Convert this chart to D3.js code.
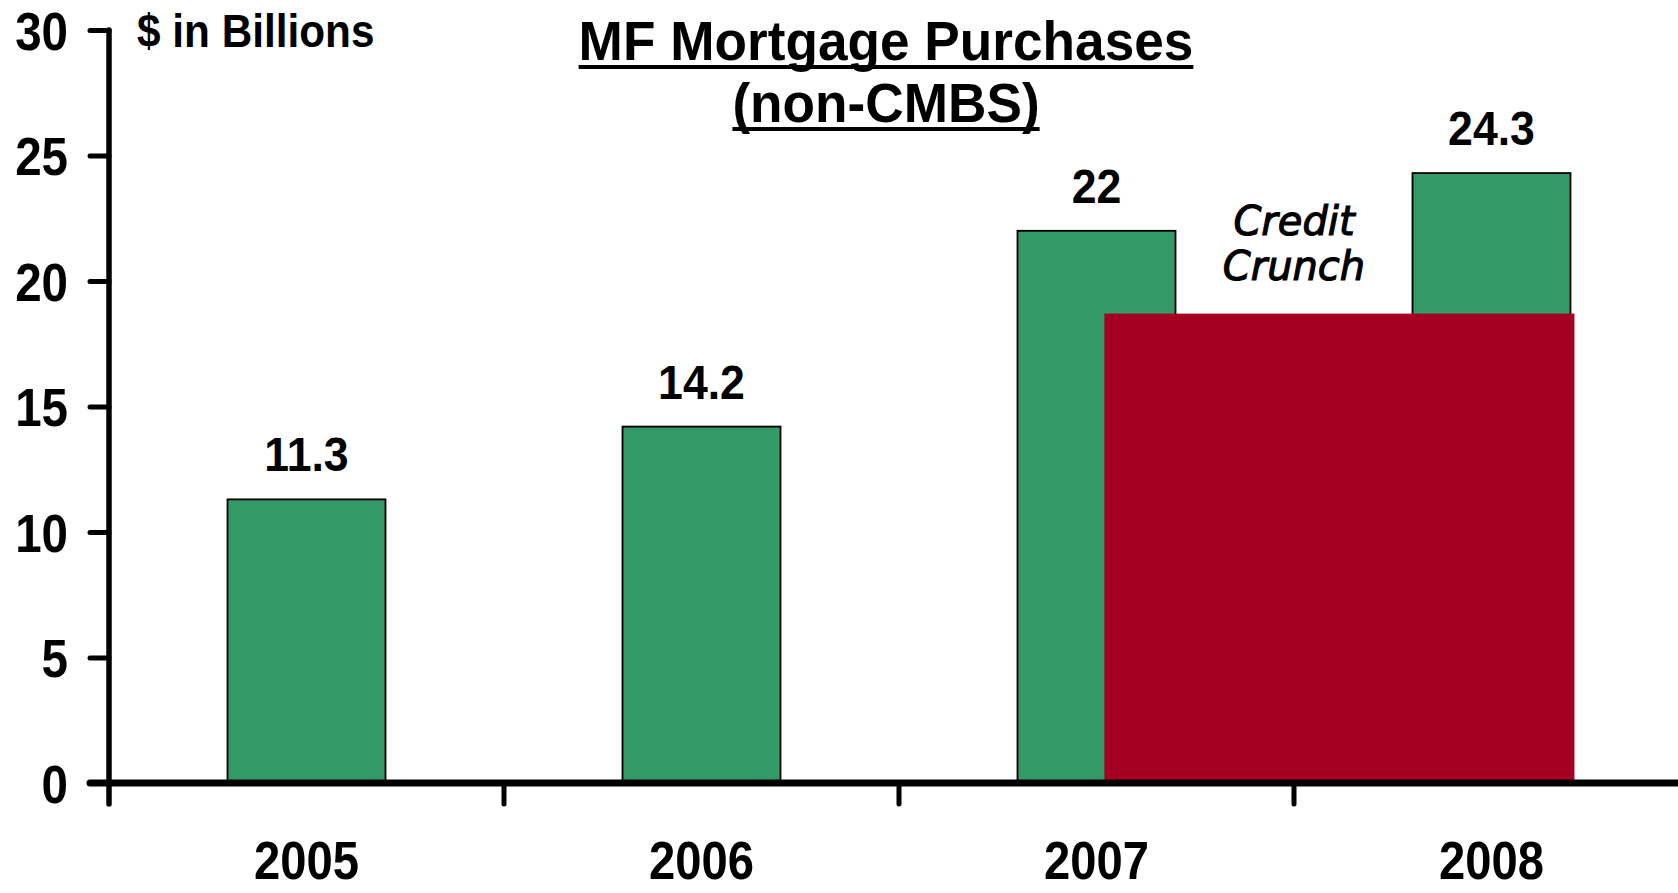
<!DOCTYPE html>
<html>
<head>
<meta charset="UTF-8">
<script src="https://d3js.org/d3.v7.min.js"></script>
<style>
  body { margin: 0; background: #fff; }
  svg text { font-family: "Liberation Sans", Arial, sans-serif; font-weight: bold; fill: #000; }
</style>
</head>
<body>
<script>
// data
const years  = ["2005", "2006", "2007", "2008"];
const values = [11.3, 14.2, 22, 24.3];
const valueLabels = ["11.3", "14.2", "22", "24.3"];
const yTicks = [0, 5, 10, 15, 20, 25, 30];
const titleLines = ["MF Mortgage Purchases", "(non-CMBS)"];
const unitLabel = "$ in Billions";
const crunchLines = ["Credit", "Crunch"];
// red block: starts inside 2007 band, ends inside 2008 band, top at this value
const crunchFrom = ["2007", 0.52];
const crunchTo   = ["2008", 0.71];
const crunchTop  = 18.7;

const W = 1678, H = 893;
const svg = d3.select("body").append("svg")
  .attr("width", W).attr("height", H);

const x = d3.scaleBand().domain(years).range([109, 1689]).padding(0);
const y = d3.scaleLinear().domain([0, 30]).range([783, 30]);
const barW = x.bandwidth() * 0.4;

// the original font is a bit narrower than Arial, squeeze text horizontally
function place(sel, px, py, sx) {
  return sel.attr("transform", `translate(${px},${py}) scale(${sx},1)`);
}

// bars
svg.selectAll("rect.bar")
  .data(years)
  .enter().append("rect")
    .attr("class", "bar")
    .attr("x", d => x(d) + (x.bandwidth() - barW) / 2)
    .attr("y", (d, i) => y(values[i]))
    .attr("width", barW)
    .attr("height", (d, i) => y(0) - y(values[i]))
    .attr("fill", "#339966")
    .attr("stroke", "#000")
    .attr("stroke-width", 1.8);

// value labels
svg.selectAll("text.val")
  .data(years)
  .enter().append("text")
    .attr("class", "val")
    .attr("text-anchor", "middle")
    .style("font-size", "48px")
    .text((d, i) => valueLabels[i])
    .each(function(d, i) {
      place(d3.select(this), x(d) + x.bandwidth() / 2, y(values[i]) - 28, 0.93);
    });

// credit crunch block
const cx0 = x(crunchFrom[0]) + x.bandwidth() * crunchFrom[1];
const cx1 = x(crunchTo[0]) + x.bandwidth() * crunchTo[1];
svg.append("rect")
  .attr("x", cx0)
  .attr("y", y(crunchTop))
  .attr("width", cx1 - cx0)
  .attr("height", y(0) - y(crunchTop) + 2)
  .attr("fill", "#A50021");

// y axis
const yAxis = svg.append("g")
  .attr("transform", "translate(109,0)")
  .call(d3.axisLeft(y).tickValues(yTicks).tickSize(19).tickPadding(22).tickSizeOuter(0));
yAxis.select(".domain").remove();
yAxis.selectAll(".tick line")
  .attr("stroke", "#000").attr("stroke-width", 5).attr("stroke-linecap", "round");
yAxis.selectAll(".tick text")
  .attr("x", null).attr("dy", "0.36em")
  .style("font-size", "54px")
  .style("font-family", "'Liberation Sans', Arial, sans-serif").style("font-weight", "bold")
  .each(function() { place(d3.select(this), -41, 0, 0.88); });

// x axis line and ticks at band boundaries
svg.append("line")
  .attr("x1", 90).attr("x2", W)
  .attr("y1", y(0)).attr("y2", y(0))
  .attr("stroke", "#000").attr("stroke-width", 7).attr("stroke-linecap", "round");
svg.append("line")
  .attr("x1", 109).attr("x2", 109)
  .attr("y1", y(30)).attr("y2", y(0) + 21)
  .attr("stroke", "#000").attr("stroke-width", 5.5).attr("stroke-linecap", "round");
svg.selectAll("line.xtick")
  .data(years.slice(1))
  .enter().append("line")
    .attr("class", "xtick")
    .attr("x1", d => x(d)).attr("x2", d => x(d))
    .attr("y1", y(0)).attr("y2", y(0) + 21)
    .attr("stroke", "#000").attr("stroke-width", 5).attr("stroke-linecap", "round");

// year labels
svg.selectAll("text.year")
  .data(years)
  .enter().append("text")
    .attr("class", "year")
    .attr("text-anchor", "middle")
    .style("font-size", "53px")
    .text(d => d)
    .each(function(d) { place(d3.select(this), x(d) + x.bandwidth() / 2, 879, 0.89); });

// unit label
place(svg.append("text"), 137, 47, 0.92)
  .style("font-size", "46px")
  .text(unitLabel);

// title with underline
const titleY = [60, 122];
titleLines.forEach((t, i) => {
  const tx = place(svg.append("text"), 886, titleY[i], 0.95)
    .attr("text-anchor", "middle")
    .style("font-size", "56px")
    .text(t);
  const bb = tx.node().getBBox();
  svg.append("line")
    .attr("x1", 886 + bb.x * 0.95).attr("x2", 886 + (bb.x + bb.width) * 0.95)
    .attr("y1", titleY[i] + 7).attr("y2", titleY[i] + 7)
    .attr("stroke", "#000").attr("stroke-width", 4);
});

// credit crunch note
const crunchY = [235, 280];
crunchLines.forEach((t, i) => {
  svg.append("text")
    .attr("x", 1294).attr("y", crunchY[i])
    .attr("text-anchor", "middle")
    .style("font-family", "'DejaVu Sans', Verdana, sans-serif")
    .style("font-style", "italic")
    .style("font-weight", "normal")
    .style("font-size", "40px")
    .style("stroke", "#000").style("stroke-width", 1.1)
    .text(t);
});
</script>
</body>
</html>
